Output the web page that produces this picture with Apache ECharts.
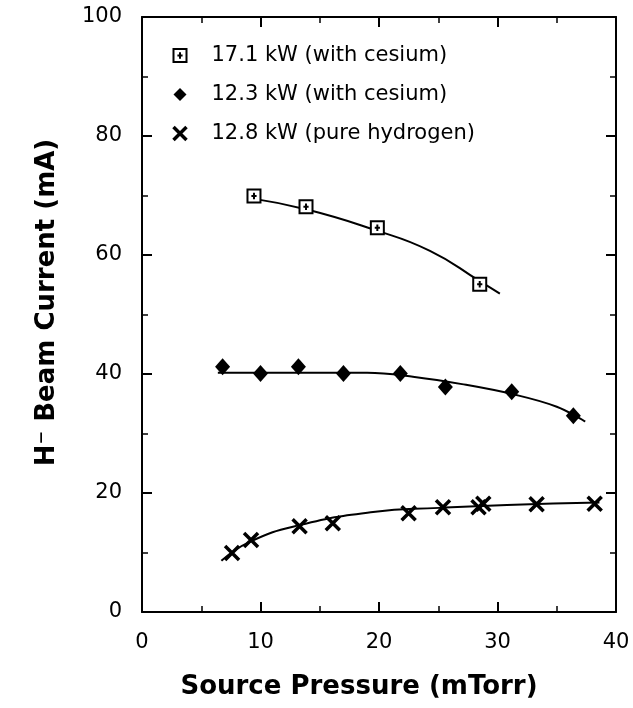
<!DOCTYPE html>
<html>
<head>
<meta charset="utf-8">
<script src="https://cdn.jsdelivr.net/npm/echarts@6/dist/echarts.min.js"></script>
<style>html,body{margin:0;padding:0;background:#fff;}#c{width:633px;height:708px;}</style>
</head>
<body>
<div id="c"></div>
<script>
// Measured points
const names = ['17.1 kW (with cesium)', '12.3 kW (with cesium)', '12.8 kW (pure hydrogen)'];
const cs17x = [9.45, 13.84, 19.86, 28.5];
const cs17y = [69.9, 68.1, 64.6, 55.1];
const cs12x = [6.8, 10.0, 13.2, 17.0, 21.8, 25.6, 31.2, 36.4];
const cs12y = [41.2, 40.1, 41.2, 40.1, 40.1, 37.8, 37.0, 33.0];
const h2x = [7.6, 9.2, 13.3, 16.1, 22.5, 25.4, 28.4, 28.8, 33.3, 38.2];
const h2y = [9.9, 12.1, 14.4, 14.9, 16.6, 17.6, 17.6, 18.2, 18.1, 18.2];
// Fitted curves
const fit17x = [9.0, 14.0, 19.5, 24.3, 28.5, 30.2];
const fit17y = [69.6, 67.6, 64.3, 60.7, 55.6, 53.5];
const fit12x = [6.4, 13.0, 19.0, 23.0, 27.0, 31.3, 35.0, 37.4];
const fit12y = [40.2, 40.2, 40.2, 39.5, 38.3, 36.6, 34.5, 32.0];
const fitH2x = [6.7, 9.1, 13.3, 19.5, 25.1, 30.8, 38.6];
const fitH2y = [8.6, 11.8, 14.6, 16.8, 17.5, 18.0, 18.4];
const xTicks = [0, 10, 20, 30, 40];
const yTicks = [0, 20, 40, 60, 80, 100];

const zip = (a, b) => a.map((v, i) => [v, b[i]]);
const FONT = '"DejaVu Sans", Verdana, sans-serif';
const INK = '#000';

const sqPath = 'path://M0,0 L10,0 L10,10 L0,10 Z M5,2.5 L5,7.5 M3,5 L7,5';
const xPath = 'path://M0,0 L10,10 M10,0 L0,10';

function axisCommon(showLabel) {
  return {
    axisLine: { show: true, onZero: false, lineStyle: { color: INK, width: 2 } },
    axisTick: { show: true, inside: true, length: 10, lineStyle: { color: INK, width: 2 } },
    minorTick: { show: true, splitNumber: 2, length: 6, lineStyle: { color: INK, width: 1.5 } },
    splitLine: { show: false },
    axisLabel: { show: showLabel, color: INK, fontSize: 21, fontFamily: FONT, margin: 20 }
  };
}

const chart = echarts.init(document.getElementById('c'), null, { renderer: 'canvas' });
chart.setOption({
  backgroundColor: '#fff',
  animation: false,
  grid: { left: 142, right: 17, top: 17, bottom: 96 },
  legend: {
    orient: 'vertical', left: 166, top: 40, itemGap: 18,
    itemWidth: 13, itemHeight: 13,
    textStyle: { fontSize: 21, fontFamily: FONT, color: INK, padding: [0, 0, 0, 20] },
    data: [
      { name: names[0], itemStyle: { color: '#fff', borderColor: INK, borderWidth: 2, opacity: 1 } },
      { name: names[1], itemStyle: { color: INK, opacity: 1 } },
      { name: names[2], itemStyle: { color: 'none', borderColor: INK, borderWidth: 3.5, opacity: 1 } }
    ]
  },
  xAxis: [
    Object.assign(axisCommon(true), {
      type: 'value', min: xTicks[0], max: xTicks[xTicks.length - 1], interval: 10, position: 'bottom',
      name: 'Source Pressure (mTorr)', nameLocation: 'middle', nameGap: 62,
      nameTextStyle: { fontSize: 26, fontWeight: 'bold', fontFamily: FONT, color: INK, padding: [0, 40, 0, 0] }
    }),
    Object.assign(axisCommon(false), {
      type: 'value', min: xTicks[0], max: xTicks[xTicks.length - 1], interval: 10, position: 'top'
    })
  ],
  yAxis: [
    Object.assign(axisCommon(true), {
      type: 'value', min: yTicks[0], max: yTicks[yTicks.length - 1], interval: 20, position: 'left',
      name: 'H\u207B Beam Current (mA)', nameLocation: 'middle', nameGap: 82, nameRotate: 90,
      nameTextStyle: { fontSize: 26, fontWeight: 'bold', fontFamily: FONT, color: INK, padding: [0, 0, 0, 24] }
    }),
    Object.assign(axisCommon(false), {
      type: 'value', min: yTicks[0], max: yTicks[yTicks.length - 1], interval: 20, position: 'right'
    })
  ],
  series: [
    { type: 'line', data: zip(fit17x, fit17y), smooth: 0.5, showSymbol: false, silent: true,
      lineStyle: { color: INK, width: 2 }, z: 2 },
    { type: 'line', data: zip(fit12x, fit12y), smooth: 0.4, showSymbol: false, silent: true,
      lineStyle: { color: INK, width: 2 }, z: 2 },
    { type: 'line', data: zip(fitH2x, fitH2y), smooth: 0.5, showSymbol: false, silent: true,
      lineStyle: { color: INK, width: 2 }, z: 2 },
    { name: names[0], type: 'scatter', data: zip(cs17x, cs17y), symbol: sqPath, symbolSize: 13,
      itemStyle: { color: '#fff', borderColor: INK, borderWidth: 2, opacity: 1 }, z: 5 },
    { name: names[1], type: 'scatter', data: zip(cs12x, cs12y), symbol: 'diamond', symbolSize: [15, 17],
      itemStyle: { color: INK, opacity: 1 }, z: 5 },
    { name: names[2], type: 'scatter', data: zip(h2x, h2y), symbol: xPath, symbolSize: 14,
      itemStyle: { color: 'none', borderColor: INK, borderWidth: 3.5, opacity: 1 }, z: 5 }
  ]
});
</script>
</body>
</html>
